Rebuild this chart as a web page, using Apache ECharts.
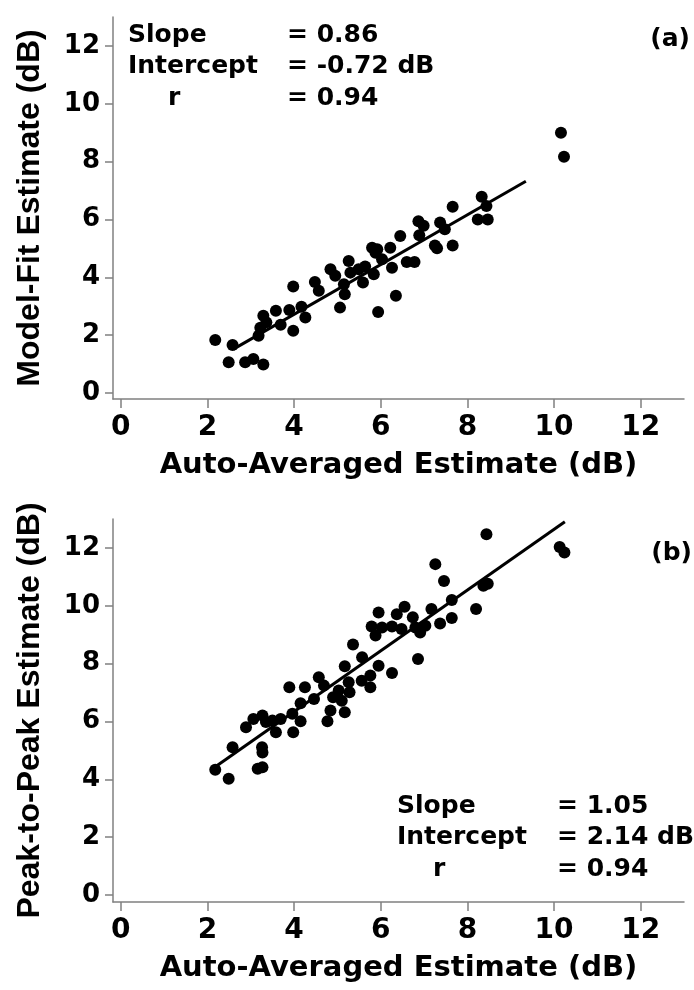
<!DOCTYPE html>
<html>
<head>
<meta charset="utf-8">
<script src="https://cdn.jsdelivr.net/npm/echarts@6/dist/echarts.min.js"></script>
<style>
  html, body { margin: 0; padding: 0; background: #fff; }
  #chart { width: 694px; height: 990px; }
</style>
</head>
<body>
<div id="chart"></div>
<script>
// Tick values shared by both panels
const tickValues = [0, 2, 4, 6, 8, 10, 12];

// Axis titles
const xTitle = 'Auto-Averaged Estimate (dB)';
const yTitleA = 'Model-Fit Estimate (dB)';
const yTitleB = 'Peak-to-Peak Estimate (dB)';
const panelTags = ['(a)', '(b)'];

// Panel (a): auto-averaged vs model-fit estimates, [x, y] in dB
const pointsA = [
  [2.18, 1.83], [2.49, 1.06], [2.58, 1.66], [2.87, 1.06], [3.06, 1.17], [3.29, 0.98],
  [3.18, 1.98], [3.29, 2.67], [3.36, 2.44], [3.22, 2.25], [3.58, 2.84], [3.69, 2.36],
  [3.89, 2.87], [3.98, 3.68], [3.98, 2.15], [4.17, 2.98], [4.26, 2.61], [4.48, 3.84],
  [4.57, 3.53], [4.84, 4.28], [4.95, 4.05], [5.06, 2.95], [5.15, 3.76], [5.17, 3.41],
  [5.26, 4.56], [5.30, 4.16], [5.49, 4.28], [5.59, 3.82], [5.64, 4.37], [5.80, 5.02],
  [5.92, 4.97], [5.88, 4.85], [5.84, 4.10], [5.94, 2.80], [6.03, 4.62], [6.22, 5.02],
  [6.26, 4.33], [6.35, 3.36], [6.45, 5.43], [6.60, 4.53], [6.78, 4.53], [6.87, 5.94],
  [6.99, 5.78], [6.89, 5.45], [7.25, 5.10], [7.30, 5.00], [7.37, 5.89], [7.48, 5.66],
  [7.66, 6.44], [7.66, 5.10], [8.24, 6.00], [8.33, 6.78], [8.44, 6.46], [8.47, 6.00],
  [10.16, 9.00], [10.23, 8.17]
];

// Panel (b): auto-averaged vs peak-to-peak estimates, [x, y] in dB
const pointsB = [
  [2.18, 4.33], [2.49, 4.02], [2.58, 5.11], [2.89, 5.80], [3.06, 6.09], [3.27, 6.21],
  [3.35, 5.98], [3.26, 5.11], [3.27, 4.93], [3.16, 4.37], [3.27, 4.42], [3.58, 5.63],
  [3.50, 6.03], [3.69, 6.09], [3.96, 6.27], [3.98, 5.63], [4.15, 6.01], [3.89, 7.18],
  [4.25, 7.18], [4.15, 6.63], [4.46, 6.78], [4.57, 7.53], [4.69, 7.24], [4.77, 6.01],
  [4.84, 6.38], [4.90, 6.84], [5.03, 7.07], [5.10, 6.72], [5.17, 6.32], [5.17, 7.91],
  [5.26, 7.36], [5.28, 7.01], [5.36, 8.66], [5.57, 8.22], [5.56, 7.41], [5.76, 7.59],
  [5.76, 7.18], [5.95, 7.93], [5.79, 9.28], [5.88, 8.97], [5.95, 9.77], [6.03, 9.25],
  [6.26, 9.28], [6.26, 7.68], [6.37, 9.71], [6.48, 9.20], [6.55, 9.97], [6.74, 9.60],
  [6.80, 9.25], [6.86, 8.16], [6.91, 9.08], [7.03, 9.31], [7.17, 9.89], [7.26, 11.44],
  [7.37, 9.39], [7.46, 10.86], [7.64, 10.20], [7.64, 9.58], [8.20, 9.89], [8.44, 12.47],
  [8.37, 10.69], [8.47, 10.76], [10.13, 12.03], [10.24, 11.84]
];

// Regression statistics for each panel
const slopes = [0.86, 1.05];
const intercepts = [-0.72, 2.14];
const rValues = [0.94, 0.94];
// x extent of each fitted line
const fitStart = [2.6, 2.2];
const fitEnd = [9.35, 10.25];

function fitLine(i) {
  return [fitStart[i], fitEnd[i]].map(x => [x, slopes[i] * x + intercepts[i]]);
}

const AXIS_GRAY = '#808080';
const WIDE = 'DejaVu Sans';
const NARROW = 'Liberation Sans';

function xAxisFor(gridIndex) {
  return {
    gridIndex, type: 'value', min: -0.18, max: 13,
    axisLine: { show: true, onZero: false, lineStyle: { color: AXIS_GRAY, width: 1.5 } },
    axisTick: { show: true, length: 9, customValues: tickValues,
                lineStyle: { color: AXIS_GRAY, width: 1.5 } },
    axisLabel: { customValues: tickValues, margin: 15, color: '#000',
                 fontFamily: WIDE, fontWeight: 'bold', fontSize: 28 },
    splitLine: { show: false },
    name: xTitle, nameLocation: 'middle', nameGap: 52,
    nameTextStyle: { color: '#000', fontFamily: WIDE, fontWeight: 'bold', fontSize: 29 }
  };
}

function yAxisFor(gridIndex, min, title) {
  return {
    gridIndex, type: 'value', min, max: 13,
    axisLine: { show: true, onZero: false, lineStyle: { color: AXIS_GRAY, width: 1.5 } },
    axisTick: { show: true, length: 8, customValues: tickValues,
                lineStyle: { color: AXIS_GRAY, width: 1.5 } },
    axisLabel: { customValues: tickValues, margin: 13, color: '#000',
                 fontFamily: WIDE, fontWeight: 'bold', fontSize: 26 },
    splitLine: { show: false },
    name: title, nameLocation: 'middle', nameGap: 67, nameRotate: 90,
    nameTextStyle: { color: '#000', fontFamily: NARROW, fontWeight: 'bold', fontSize: 32 }
  };
}

function statBlock(left, valueLeft, rLeft, firstMid, i) {
  const font = 'bold 25px "DejaVu Sans"';
  const rows = [
    ['Slope', left, '= ' + slopes[i].toFixed(2)],
    ['Intercept', left, '= ' + intercepts[i].toFixed(2) + ' dB'],
    ['r', rLeft, '= ' + rValues[i].toFixed(2)]
  ];
  const out = [];
  rows.forEach((row, k) => {
    const y = firstMid + k * 31.5;
    out.push({ type: 'text', x: row[1], y,
      style: { text: row[0], font, fill: '#000', textAlign: 'left', textVerticalAlign: 'middle' } });
    out.push({ type: 'text', x: valueLeft, y,
      style: { text: row[2], font, fill: '#000', textAlign: 'left', textVerticalAlign: 'middle' } });
  });
  return out;
}

const chart = echarts.init(document.getElementById('chart'), null, { renderer: 'canvas' });

chart.setOption({
  backgroundColor: '#fff',
  animation: false,
  grid: [
    { left: 113, top: 17, width: 571, height: 382 },
    { left: 113, top: 519, width: 571, height: 383 }
  ],
  xAxis: [xAxisFor(0), xAxisFor(1)],
  yAxis: [yAxisFor(0, -0.21, yTitleA), yAxisFor(1, -0.24, yTitleB)],
  series: [
    { type: 'scatter', xAxisIndex: 0, yAxisIndex: 0, data: pointsA,
      symbol: 'circle', symbolSize: 12, itemStyle: { color: '#000', opacity: 1 }, z: 3 },
    { type: 'line', xAxisIndex: 0, yAxisIndex: 0, data: fitLine(0),
      symbol: 'none', lineStyle: { color: '#000', width: 3 }, z: 2 },
    { type: 'scatter', xAxisIndex: 1, yAxisIndex: 1, data: pointsB,
      symbol: 'circle', symbolSize: 12, itemStyle: { color: '#000', opacity: 1 }, z: 3 },
    { type: 'line', xAxisIndex: 1, yAxisIndex: 1, data: fitLine(1),
      symbol: 'none', lineStyle: { color: '#000', width: 3 }, z: 2 }
  ],
  graphic: [
    ...statBlock(128, 287, 168, 35, 0),
    ...statBlock(397, 557, 433, 806, 1),
    { type: 'text', x: 690, y: 39,
      style: { text: panelTags[0], font: 'bold 25px "DejaVu Sans"', fill: '#000',
               textAlign: 'right', textVerticalAlign: 'middle' } },
    { type: 'text', x: 692, y: 553,
      style: { text: panelTags[1], font: 'bold 25px "DejaVu Sans"', fill: '#000',
               textAlign: 'right', textVerticalAlign: 'middle' } }
  ]
});
</script>
</body>
</html>
